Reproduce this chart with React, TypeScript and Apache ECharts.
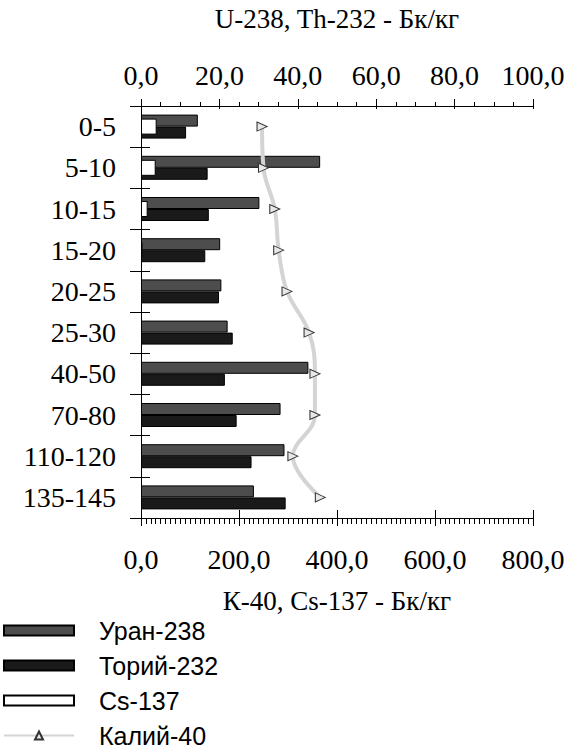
import React, { useEffect, useRef } from 'react';
import * as echarts from 'echarts';

const depths = ['0-5', '5-10', '10-15', '15-20', '20-25', '25-30', '40-50', '70-80', '110-120', '135-145'];
const uranium = [14.5, 45.7, 30.2, 20.2, 20.5, 22.1, 42.7, 35.6, 36.6, 28.8];
const thorium = [11.5, 17.0, 17.3, 16.4, 19.9, 23.4, 21.4, 24.4, 28.2, 36.9];
const cesium: (number | null)[] = [32, 30, 13.6, 3.4, null, null, null, null, null, null];
const potassium = [247, 250, 273, 281, 298, 343, 355, 355, 310, 366];

const topTitle = 'U-238, Th-232 - Бк/кг';
const bottomTitle = 'К-40, Cs-137 - Бк/кг';
const legendNames = ['Уран-238', 'Торий-232', 'Cs-137', 'Калий-40'];

const SERIF = '"Liberation Serif", "Times New Roman", serif';
const SANS = '"Liberation Sans", Arial, sans-serif';

const fmt = (v: number) => v.toFixed(1).replace('.', ',');

export default function App() {
  const ref = useRef<HTMLDivElement>(null);
  useEffect(() => {
    if (!ref.current) return;
    const chart = echarts.init(ref.current, undefined, { renderer: 'svg' });
    const GRID = { left: 141, top: 106, width: 392, height: 412 };
    const black = '#000';
    chart.setOption({
      animation: false,
      backgroundColor: '#fff',
      grid: [
        { ...GRID, containLabel: false },
        { ...GRID, containLabel: false },
      ],
      xAxis: [
        {
          type: 'value', gridIndex: 0, position: 'top', min: 0, max: 100, interval: 20,
          axisLine: { show: true, lineStyle: { color: black, width: 1 } },
          axisTick: { show: true, length: 7, lineStyle: { color: black } },
          minorTick: { show: true, splitNumber: 4, length: 4, lineStyle: { color: black } },
          splitLine: { show: false },
          axisLabel: { formatter: fmt, fontFamily: SERIF, fontSize: 28, color: black, margin: 17 },
        },
        {
          type: 'value', gridIndex: 0, position: 'bottom', min: 0, max: 800, interval: 200,
          axisLine: { show: true, onZero: false, lineStyle: { color: black, width: 1 } },
          axisTick: { show: true, length: 8, lineStyle: { color: black } },
          minorTick: { show: true, splitNumber: 20, length: 6, lineStyle: { color: black } },
          splitLine: { show: false },
          axisLabel: { formatter: fmt, fontFamily: SERIF, fontSize: 28, color: black, margin: 27 },
        },
        {
          type: 'value', gridIndex: 1, position: 'top', min: 0, max: 100, interval: 20,
          axisLine: { show: false },
          axisTick: { show: true, inside: true, length: 3, lineStyle: { color: black } },
          splitLine: { show: false }, axisLabel: { show: false },
        },
        {
          type: 'value', gridIndex: 1, position: 'bottom', min: 0, max: 800, interval: 200,
          axisLine: { show: false, onZero: false },
          axisTick: { show: true, inside: true, length: 8, lineStyle: { color: black } },
          splitLine: { show: false }, axisLabel: { show: false },
        },
      ],
      yAxis: [
        {
          type: 'category', gridIndex: 0, position: 'left', inverse: true, data: depths,
          axisLine: { show: true, onZero: false, lineStyle: { color: black, width: 1 } },
          axisTick: { show: true, length: 11, lineStyle: { color: black } },
          axisLabel: { fontFamily: SERIF, fontSize: 28, color: black, margin: 25 },
          splitLine: { show: false },
        },
        {
          type: 'category', gridIndex: 0, position: 'right', inverse: true, data: depths, show: false,
        },
        {
          type: 'category', gridIndex: 1, position: 'left', inverse: true, data: depths,
          axisLine: { show: false },
          axisTick: { show: true, inside: true, length: 9, lineStyle: { color: black } },
          axisLabel: { show: false }, splitLine: { show: false },
        },
      ],
      legend: {
        orient: 'vertical', left: 3, top: 618, height: 160, padding: 0, itemWidth: 70, itemHeight: 10, itemGap: 10,
        symbolRotate: 0,
        textStyle: { fontFamily: SANS, fontSize: 25, color: black, padding: [0, 0, 0, 20], lineHeight: 22 },
        data: [
          { name: legendNames[0], icon: 'rect' },
          { name: legendNames[1], icon: 'rect' },
          { name: legendNames[2], icon: 'rect' },
          { name: legendNames[3] },
        ],
      },
      graphic: [
        { type: 'text', x: 337, y: 19, style: { text: topTitle, font: `27px ${SERIF}`, textAlign: 'center', textVerticalAlign: 'middle', fill: black } },
        { type: 'text', x: 337, y: 601, style: { text: bottomTitle, font: `27px ${SERIF}`, textAlign: 'center', textVerticalAlign: 'middle', fill: black } },
      ],
      series: [
        {
          name: legendNames[0], type: 'bar', xAxisIndex: 0, yAxisIndex: 0, data: uranium,
          barWidth: 12, barGap: '0%',
          itemStyle: { color: '#4d4d4d', borderColor: black, borderWidth: 1 },
        },
        {
          name: legendNames[1], type: 'bar', xAxisIndex: 0, yAxisIndex: 0, data: thorium,
          barWidth: 12, barGap: '0%',
          itemStyle: { color: '#1a1a1a', borderColor: black, borderWidth: 1 },
        },
        {
          name: legendNames[2], type: 'bar', xAxisIndex: 1, yAxisIndex: 1, data: cesium,
          barWidth: 16, z: 3,
          itemStyle: { color: '#fff', borderColor: black, borderWidth: 1 },
        },
        {
          name: legendNames[3], type: 'line', xAxisIndex: 1, yAxisIndex: 1, data: potassium,
          smooth: 0.4, z: 4,
          lineStyle: { color: '#d4d4d4', width: 4 },
          symbol: 'triangle', symbolSize: [9, 10], symbolRotate: -90,
          itemStyle: { color: '#e8e8e8', borderColor: '#333', borderWidth: 1 },
        },
      ],
    });
    return () => chart.dispose();
  }, []);
  return (
    <div
      ref={ref}
      style={{ position: 'fixed', left: 0, top: 0, width: 575, height: 749, background: '#fff' }}
    />
  );
}
